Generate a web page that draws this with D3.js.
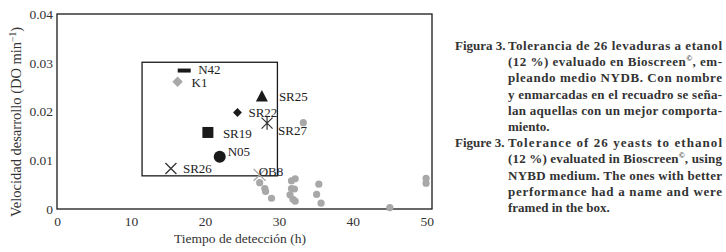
<!DOCTYPE html>
<html>
<head>
<meta charset="utf-8">
<script src="https://cdn.jsdelivr.net/npm/d3@7"></script>
<style>
  body { margin: 0; background: #fff; }
  svg text { font-family: 'Liberation Serif', 'DejaVu Serif', serif; }
</style>
</head>
<body>
<div id="chart"></div>
<script>
// named strains (inside the box)
const names = ['N42', 'K1', 'SR25', 'SR22', 'SR27', 'SR19', 'N05', 'SR26', 'OB8']
const namedTime = [17.2, 16.3, 27.7, 24.4, 28.4, 20.4, 22.0, 15.4, 27.4]
const namedRate = [0.0284, 0.0261, 0.0232, 0.0198, 0.0176, 0.0157, 0.0107, 0.0083, 0.0070]

// the rest of the yeasts (grey dots)
const otherTime = [33.3, 27.4, 28.1, 28.2, 29.0, 31.7, 32.2, 31.7, 32.1, 31.5, 31.9, 32.2, 35.4, 35.1, 35.7, 45.0, 49.9, 49.9]
const otherRate = [0.0177, 0.0054, 0.0042, 0.0036, 0.0022, 0.0058, 0.0062, 0.0042, 0.0041, 0.0029, 0.0020, 0.0016, 0.0051, 0.0030, 0.0012, 0.0003, 0.0063, 0.0053]

// the box around the better ones
const boxTime = [11.5, 29.8]
const boxRate = [0.0068, 0.0301]

const xTicks = [0, 10, 20, 30, 40, 50]
const yTicks = [0, 0.01, 0.02, 0.03, 0.04]

const svg = d3.select('#chart').append('svg')
  .attr('width', 726)
  .attr('height', 252)

const x = d3.scaleLinear().domain([0, 50.7]).range([57, 432])
const y = d3.scaleLinear().domain([0, 0.04]).range([209, 14])

const black = '#1a1a1a'
const grey = '#a8a8a8'

// outer frame
svg.append('rect')
  .attr('x', x(0)).attr('y', y(0.04))
  .attr('width', x(50.7) - x(0)).attr('height', y(0) - y(0.04))
  .attr('fill', 'none').attr('stroke', black).attr('stroke-width', 1.3)

// axes, labels only
const xAxis = svg.append('g')
  .attr('transform', 'translate(0,' + y(0) + ')')
  .call(d3.axisBottom(x).tickValues(xTicks).tickSize(0).tickPadding(7).tickFormat(d3.format('d')))
xAxis.select('.domain').remove()
xAxis.selectAll('text').attr('font-size', '13.5px').attr('fill', '#333')
  .style('font-family', "'Liberation Serif', serif")

const yAxis = svg.append('g')
  .attr('transform', 'translate(' + x(0) + ',0)')
  .call(d3.axisLeft(y).tickValues(yTicks).tickSize(0).tickPadding(4).tickFormat(d => d === 0 ? '0' : d3.format('.2f')(d)))
yAxis.select('.domain').remove()
yAxis.selectAll('text').attr('font-size', '13.5px').attr('fill', '#333')
  .style('font-family', "'Liberation Serif', serif")

// axis titles
svg.append('text')
  .attr('x', 240).attr('y', 243)
  .attr('text-anchor', 'middle').attr('font-size', '13.5px').attr('fill', '#333')
  .text('Tiempo de detección (h)')

const yTitle = svg.append('text')
  .attr('transform', 'translate(21,122) rotate(-90)')
  .attr('text-anchor', 'middle').attr('font-size', '14.5px').attr('fill', '#333')
yTitle.append('tspan').text('Velocidad desarrollo (DO min')
yTitle.append('tspan').attr('font-size', '9.5px').attr('dy', -5).text('−1')
yTitle.append('tspan').attr('dy', 5).text(')')

// inner box
svg.append('rect')
  .attr('x', x(boxTime[0])).attr('y', y(boxRate[1]))
  .attr('width', x(boxTime[1]) - x(boxTime[0])).attr('height', y(boxRate[0]) - y(boxRate[1]))
  .attr('fill', 'none').attr('stroke', black).attr('stroke-width', 1.3)

// grey dots
const others = otherTime.map((t, i) => ({ t: t, r: otherRate[i] }))
svg.selectAll('.other')
  .data(others)
  .enter()
  .append('circle')
  .attr('class', 'other')
  .attr('cx', d => x(d.t))
  .attr('cy', d => y(d.r))
  .attr('r', 3.6)
  .attr('fill', grey)

// named strains
const named = names.map((n, i) => ({ name: n, t: namedTime[i], r: namedRate[i] }))

function marker(g, name) {
  if (name === 'N42') {
    g.append('rect').attr('x', -6.5).attr('y', -2).attr('width', 13).attr('height', 4).attr('fill', black)
  } else if (name === 'K1') {
    g.append('path').attr('d', d3.symbol().type(d3.symbolDiamond2).size(70)).attr('fill', grey)
  } else if (name === 'SR25') {
    g.append('path').attr('d', 'M0,-6L6,5.5L-6,5.5Z').attr('fill', black)
  } else if (name === 'SR22') {
    g.append('path').attr('d', d3.symbol().type(d3.symbolDiamond2).size(50)).attr('fill', black)
  } else if (name === 'SR27') {
    g.append('path').attr('d', 'M-5.5,-5.5L5.5,5.5M5.5,-5.5L-5.5,5.5M0,-6.5L0,6.5')
      .attr('stroke', '#333').attr('stroke-width', 1.2).attr('fill', 'none')
  } else if (name === 'SR19') {
    g.append('rect').attr('x', -5.5).attr('y', -5.5).attr('width', 11).attr('height', 11).attr('fill', black)
  } else if (name === 'N05') {
    g.append('circle').attr('r', 6).attr('fill', black)
  } else if (name === 'SR26') {
    g.append('path').attr('d', 'M-5.5,-5.5L5.5,5.5M5.5,-5.5L-5.5,5.5')
      .attr('stroke', '#333').attr('stroke-width', 1.3).attr('fill', 'none')
  } else if (name === 'OB8') {
    g.append('path').attr('d', 'M-6,-6L6,6M6,-6L-6,6')
      .attr('stroke', grey).attr('stroke-width', 1.4).attr('fill', 'none')
  }
}

// where each name sits next to its mark
const labelOffset = {
  N42: [14, -1], K1: [14, 1], SR25: [17, 1], SR22: [11, 0], SR27: [11, 7],
  SR19: [15, 1], N05: [8, -5], SR26: [12, 0], OB8: [-1, -3]
}

const pts = svg.selectAll('.named')
  .data(named)
  .enter()
  .append('g')
  .attr('class', 'named')
  .attr('transform', d => 'translate(' + x(d.t) + ',' + y(d.r) + ')')

pts.each(function(d) { marker(d3.select(this), d.name) })

pts.append('text')
  .attr('x', d => labelOffset[d.name][0])
  .attr('y', d => labelOffset[d.name][1])
  .attr('dy', '0.35em')
  .attr('font-size', '13px')
  .attr('fill', '#222')
  .text(d => d.name)

// caption
const capLeft = 455
const capBody = 508
const capRight = 722
const lineH = 16.2
const capLines = [
  { lab: 'Figura 3.', parts: ['Tolerancia de 26 levaduras a etanol'], just: true },
  { parts: ['(12 %) evaluado en Bioscreen', '©', ', em-'], just: true },
  { parts: ['pleando medio NYDB. Con nombre'], just: true },
  { parts: ['y enmarcadas en el recuadro se seña-'], just: true },
  { parts: ['lan aquellas con un mejor comporta-'], just: true },
  { parts: ['miento.'], just: false },
  { lab: 'Figure 3.', parts: ['Tolerance of 26 yeasts to ethanol'], just: true },
  { parts: ['(12 %) evaluated in Bioscreen', '©', ', using'], just: true },
  { parts: ['NYBD medium. The ones with better'], just: true },
  { parts: ['performance had a name and were'], just: true },
  { parts: ['framed in the box.'], just: false }
]

capLines.forEach(function(l, i) {
  const yy = 50 + i * lineH
  if (l.lab) {
    svg.append('text').attr('x', capLeft).attr('y', yy)
      .attr('font-size', '13px').attr('font-weight', 'bold').attr('fill', '#333')
      .text(l.lab)
  }
  const t = svg.append('text').attr('x', capBody).attr('y', yy)
    .attr('font-size', '13px').attr('font-weight', 'bold').attr('fill', '#333')
  l.parts.forEach(function(p, j) {
    if (p === '©') {
      t.append('tspan').attr('font-size', '8px').attr('dy', -5).text(p)
    } else {
      t.append('tspan').attr('dy', j > 0 ? 5 : 0).text(p)
    }
  })
  if (l.just) {
    t.attr('textLength', capRight - capBody).attr('lengthAdjust', 'spacing')
  }
})
</script>
</body>
</html>
